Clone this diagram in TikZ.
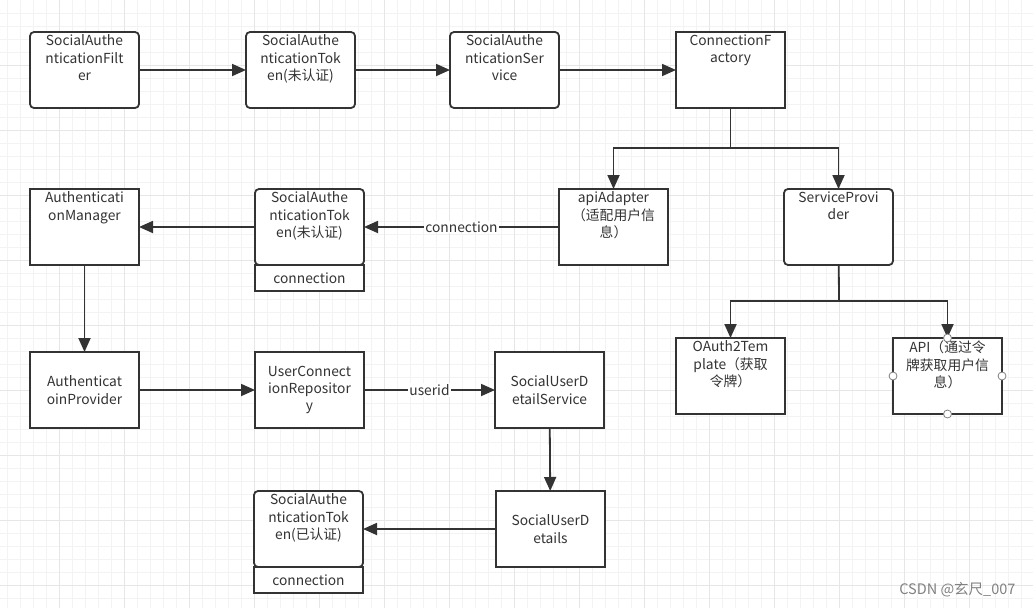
\documentclass[tikz,border=0pt]{standalone}
\usepackage{fontspec}
\setmainfont{Noto Sans CJK SC}
\usetikzlibrary{arrows.meta,positioning}

\definecolor{ink}{HTML}{333333}
\definecolor{gridminor}{HTML}{F3F3F3}
\definecolor{gridmajor}{HTML}{E6E6E6}

% text hanging from the top of a box
\newcommand{\toptxt}[1]{\parbox[t][70pt][t]{106pt}{\centering #1}}

\tikzset{
  box/.style={draw=ink, line width=1.8pt, minimum width=109pt, minimum height=76pt,
    inner sep=0pt, outer sep=0pt, anchor=north west, text=ink, fill=white},
  rbox/.style={box, rounded corners=4pt},
  midbox/.style={box, align=center, text width=106pt},
  slot/.style={draw=ink, line width=1.8pt, minimum width=109pt, minimum height=26pt,
    inner sep=0pt, outer sep=0pt, anchor=north, text=ink, fill=white},
  flow/.style={draw=ink, line width=1.8pt, -{Triangle[length=14pt,width=12pt]}},
  wire/.style={draw=ink, line width=1.8pt},
  tag/.style={fill=white, inner sep=1pt, text=ink},
  handle/.style={circle, draw=gray, fill=white, line width=0.8pt, minimum size=8pt, inner sep=0pt},
}

\begin{document}
\begin{tikzpicture}
    [x=1pt,y=-1pt,every node/.style={font=\fontsize{13.8}{17.3}\selectfont}]
    \useasboundingbox (0,0) rectangle (1033,608);
    % grid paper
    \foreach \gx in {7,20,...,1033} \draw[gridminor,line width=0.5pt] (\gx,0) -- (\gx,608);
    \foreach \gy in {13,26,...,608} \draw[gridminor,line width=0.5pt] (0,\gy) -- (1033,\gy);
    \foreach \gx in {59,124,...,1033} \draw[gridmajor,line width=0.8pt] (\gx,0) -- (\gx,608);
    \foreach \gy in {65,130,...,608} \draw[gridmajor,line width=0.8pt] (0,\gy) -- (1033,\gy);

    % first row
    \node[rbox] (filter) at (30,32) {\toptxt{SocialAuthe\\nticationFilt\\er}};
    \node[rbox] (tok1) at (246,32) {\toptxt{SocialAuthe\\nticationTok\\en(未认证)}};
    \node[rbox] (svc) at (450,32) {\toptxt{SocialAuthe\\nticationSer\\vice}};
    \node[box] (cf) at (676,32) {\toptxt{ConnectionF\\actory}};

    % second row
    \node[box] (mgr) at (30,189) {\toptxt{Authenticati\\onManager}};
    \node[rbox] (tok2) at (255,189) {\toptxt{SocialAuthe\\nticationTok\\en(未认证)}};
    \node[slot] (tok2c) at (tok2.south) {connection};
    \node[box] (adapter) at (559,189) {\toptxt{apiAdapter\\（适配用户信\\息）}};
    \node[rbox] (sp) at (784,189) {\toptxt{ServiceProvi\\der}};

    % third row
    \node[midbox] (prov) at (30,352) {Authenticat\\oinProvider};
    \node[midbox] (ucr) at (255,352) {UserConnect\\ionRepositor\\y};
    \node[midbox] (uds) at (495,352) {SocialUserD\\etailService};
    \node[box] (oauth) at (676,338) {\toptxt{OAuth2Tem\\plate（获取\\令牌）}};
    \node[box] (api) at (893,338) {\toptxt{API（通过令\\牌获取用户信\\息）}};

    % fourth row
    \node[rbox] (tok3) at (254,491) {\toptxt{SocialAuthe\\nticationTok\\en(已认证)}};
    \node[slot] (tok3c) at (tok3.south) {connection};
    \node[midbox] (usd) at (496,491) {SocialUserD\\etails};

    \coordinate (split1) at (730.5,148);
    \coordinate (split2) at (839,301);

    \draw[flow] (filter) -- (tok1);
    \draw[flow] (tok1) -- (svc);
    \draw[flow] (svc) -- (cf);
    \draw[wire] (cf) -- (split1);
    \draw[flow] (split1) -| (adapter);
    \draw[flow] (split1) -| (sp);
    \draw[flow] (adapter) -- node[tag] {connection} (tok2);
    \draw[flow] (tok2) -- (mgr);
    \draw[flow] (mgr) -- (prov);
    \draw[flow] (prov) -- (ucr);
    \draw[flow] (ucr) -- node[tag] {userid} (uds);
    \draw[flow] (uds) -- (usd);
    \draw[flow] (usd) -- (tok3);
    \draw[wire] (sp) -- (split2);
    \draw[flow] (split2) -| (oauth);
    \draw[flow] (split2) -| (api);

    % selection handles
    \node[handle] (hn) at (api.north) {};
    \node[handle] (hw) at (api.west) {};
    \node[handle] (he) at (api.east) {};
    \node[handle] (hs) at (api.south) {};

    \node[anchor=east, text=gray] (mark) at (1019,590) {\fontsize{14.5}{17}\selectfont CSDN @玄尺\_007};
\end{tikzpicture}
\end{document}
